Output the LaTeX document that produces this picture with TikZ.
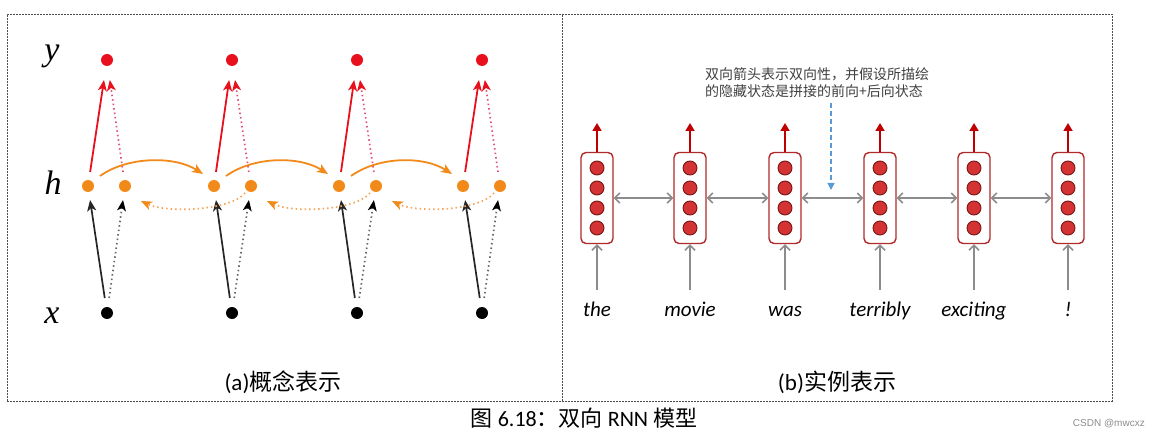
\documentclass[tikz,border=0pt]{standalone}
\usepackage{fontspec}
\setmainfont{Carlito}
\newfontfamily\cjk{Noto Sans CJK SC}
\newfontfamily\tms{Liberation Serif}
\newfontfamily\wmfont{Liberation Sans}
\usetikzlibrary{arrows.meta}
\definecolor{rRed}{HTML}{E8101C}
\definecolor{rPink}{HTML}{E0507A}
\definecolor{rOrange}{HTML}{F28A1A}
\definecolor{rOrangeL}{HTML}{F5A55A}
\definecolor{bBox}{HTML}{B02A2A}
\definecolor{bFill}{HTML}{D33333}
\definecolor{bEdge}{HTML}{7A1515}
\definecolor{bArrow}{HTML}{C00000}
\definecolor{bGray}{HTML}{8C8C8C}
\definecolor{bBlue}{HTML}{5B9BD5}
\definecolor{annGray}{HTML}{404040}
\begin{document}
\begin{tikzpicture}[x=1pt,y=1pt,
  frame/.style={draw=black!70, line width=0.8pt, dash pattern=on 2pt off 1pt},
  dotnode/.style={circle, inner sep=0pt, minimum size=12pt, draw=none},
  ydot/.style={dotnode, fill=rRed},
  hdot/.style={dotnode, fill=rOrange},
  xdot/.style={dotnode, fill=black},
  tipa/.style={-{Stealth[length=11pt,width=9pt,inset=3pt,#1]}},
  redsolid/.style={draw=rRed, line width=1.8pt, tipa=, shorten <=8pt, shorten >=14pt},
  reddotted/.style={draw=rPink, line width=1.7pt, dash pattern=on 1.5pt off 3pt, tipa={color=rRed,line width=1pt}, shorten <=8pt, shorten >=14pt},
  blksolid/.style={draw=black!85, line width=1.7pt, tipa=, shorten <=9pt, shorten >=8pt},
  blkdotted/.style={draw=black!60, line width=1.7pt, dash pattern=on 1.5pt off 3pt, tipa={color=black,line width=1pt}, shorten <=9pt, shorten >=8pt},
  orsolid/.style={draw=rOrange, line width=1.8pt, tipa=},
  ordotted/.style={draw=rOrangeL, line width=1.7pt, dash pattern=on 1.5pt off 3pt, tipa={color=rOrange,line width=1pt}},
  lbl/.style={font=\tms\itshape\fontsize{34}{36}\selectfont, inner sep=0pt, anchor=base},
  rnnbox/.style={draw=bBox, line width=1.4pt, rounded corners=5pt, minimum width=32pt, minimum height=91pt, inner sep=0pt, fill=white},
  unit/.style={circle, draw=bEdge, line width=0.9pt, fill=bFill, minimum size=14pt, inner sep=0pt},
  outarr/.style={draw=bArrow, line width=1.7pt, -{Triangle[length=8pt,width=9pt]}},
  inarr/.style={draw=bGray, line width=1.6pt, -{Straight Barb[length=5pt,width=10pt,line width=1.5pt]}},
  biarr/.style={draw=bGray, line width=1.6pt, {Straight Barb[length=5pt,width=10pt,line width=1.5pt]}-{Straight Barb[length=5pt,width=10pt,line width=1.5pt]}},
  bluearr/.style={draw=bBlue, line width=1.3pt, dash pattern=on 5pt off 3pt, -{Triangle[length=7pt,width=7pt]}},
  word/.style={font=\itshape\fontsize{21}{23}\selectfont, inner sep=0pt, anchor=base},
  caption/.style={font=\fontsize{23}{25}\selectfont, inner sep=0pt, anchor=base}
]
\useasboundingbox (0,0) rectangle (1153,437);

% frames
\draw[frame] (7,36) rectangle (1112,423);
\draw[frame] (562,36) -- (562,423);

% ---------- (a) ----------
\node[lbl] (lbly) at (52,376) {y};
\node[lbl] (lblh) at (53,242) {h};
\node[lbl] (lblx) at (52,114) {x};

\foreach \i/\xc/\fx/\bx in {1/107/88/125, 2/232/214/251, 3/357/339/376, 4/482/463/500}{
  \node[ydot] (y\i) at (\xc,377) {};
  \node[hdot] (f\i) at (\fx,251) {};
  \node[hdot] (b\i) at (\bx,251) {};
  \node[xdot] (x\i) at (\xc,124) {};
}
\foreach \i in {1,2,3,4}{
  \draw[redsolid] (f\i) -- (y\i);
  \draw[reddotted] (b\i) -- (y\i);
  \draw[blksolid] (x\i) -- (f\i);
  \draw[blkdotted] (x\i) -- (b\i);
}
\foreach \i/\j in {1/2, 2/3, 3/4}{
  \draw[orsolid] ([shift={(12,10)}]f\i.center) .. controls +(28,20) and +(-28,18) .. ([shift={(-11,12)}]f\j.center);
  \draw[ordotted] ([shift={(-6,-7)}]b\j.center) .. controls +(-15,-18) and +(25,-12) .. ([shift={(16,-15)}]b\i.center);
}

\node[caption] (capA) at (283,47) {(a){\cjk 概念表示}};

% ---------- (b) ----------
\node[font=\cjk\fontsize{14}{17}\selectfont, text=annGray, align=left, inner sep=0pt, anchor=north west] (ann) at (705,370)
  {双向箭头表示双向性，并假设所描绘\\的隐藏状态是拼接的前向+后向状态};
\coordinate (bs) at (831,334);
\coordinate (be) at (831,247);
\draw[bluearr] (bs) -- (be);

\foreach \i/\xc/\w in {1/597/the, 2/690/movie, 3/785/was, 4/880/terribly, 5/974/exciting, 6/1068/!}{
  \node[rnnbox] (r\i) at (\xc,239) {};
  \node[unit] (u\i a) at (\xc,269) {};
  \node[unit] (u\i b) at (\xc,249) {};
  \node[unit] (u\i c) at (\xc,229) {};
  \node[unit] (u\i d) at (\xc,209) {};
  \coordinate (o\i) at (\xc,314);
  \coordinate (in\i) at (\xc,147);
  \draw[outarr] (r\i.north) -- (o\i);
  \draw[inarr] (in\i) -- (r\i.south);
  \node[word] (w\i) at (\xc,121) {\w};
}
\foreach \i/\j in {1/2, 2/3, 3/4, 4/5, 5/6}{
  \draw[biarr] (r\i.east) -- (r\j.west);
}

\node[caption] (capB) at (837,47) {(b){\cjk 实例表示}};

% ---------- figure caption ----------
\node[caption, font=\fontsize{22}{24}\selectfont] (fig) at (584,11) {{\cjk 图} 6.18{\cjk ：双向} RNN {\cjk 模型}};
\node[font=\wmfont\fontsize{10}{12}\selectfont, text=black!45, inner sep=0pt, anchor=base east] (wm) at (1145,11) {CSDN @mwcxz};
\end{tikzpicture}
\end{document}
